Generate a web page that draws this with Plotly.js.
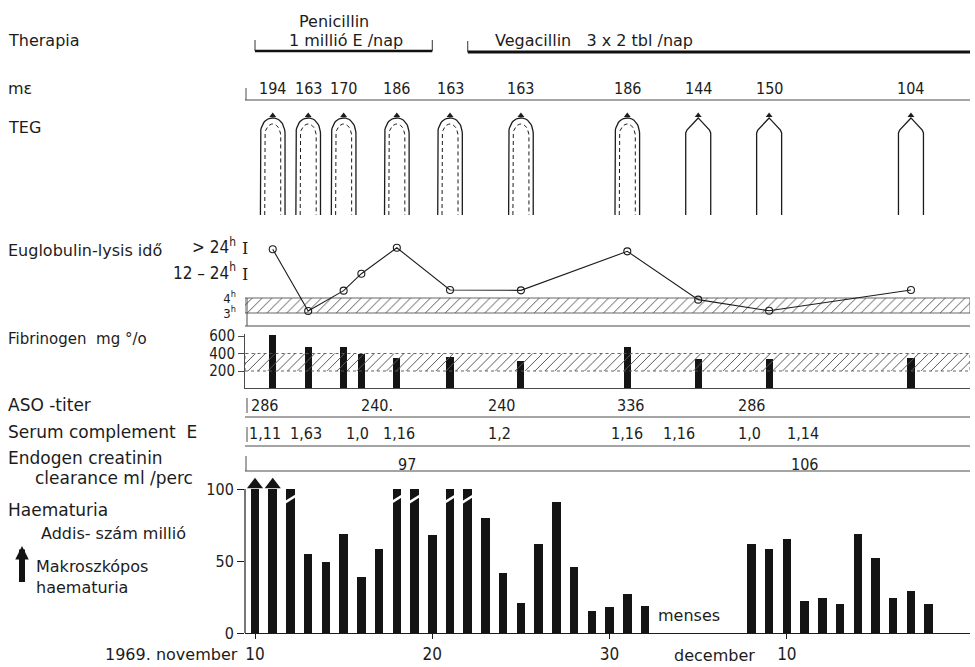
<!DOCTYPE html>
<html><head><meta charset="utf-8">
<script src="https://cdn.plot.ly/plotly-3.0.1.min.js"></script>
<style>html,body{margin:0;padding:0;background:#fff}#chart{width:975px;height:667px}</style>
</head><body><div id="chart"></div>
<script>
// ---------------- data (x = days after 1969 november 10) ----------------
const dayTickVals = [0, 10, 20, 30];
const dayTickText = ['10', '20', '30', '10'];

const penicillinDays = [0, 10];
const vegacillinStart = 12;

const tegDays = [1, 3, 5, 8, 11, 15, 21, 25, 29, 37];
const tegDashed = [true, true, true, true, true, true, true, false, false, false];
const meValues = ['194', '163', '170', '186', '163', '163', '186', '144', '150', '104'];

const labDays = [1, 3, 5, 6, 8, 11, 15, 21, 25, 29, 37];
const euglobulinLevel = [7.25, 3.13, 4.49, 5.62, 7.35, 4.53, 4.51, 7.11, 3.89, 3.15, 4.53];
const euglobulinTickVals = [3, 4, 5.6, 7.3];
const euglobulinTickText = ['3<sup>h</sup>', '4<sup>h</sup>',
  '<span style="font-size:17px">12 – 24<sup>h</sup></span>', '<span style="font-size:17px">&gt; 24<sup>h</sup></span>'];
const euglobulinBracketVals = [5.6, 7.3];
const euglobulinNormal = [3, 4];

const fibrinogen = [610, 470, 470, 400, 345, 365, 320, 480, 335, 335, 345];
const fibrinogenNormal = [200, 400];
const fibrinogenTicks = [200, 400, 600];

const asoDays = [0.55, 6.9, 13.9, 21.2, 28];
const asoValues = ['286', '240.', '240', '336', '286'];

const complementDays = [0.55, 2.9, 5.8, 8.1, 13.8, 21, 23.9, 27.9, 30.9];
const complementValues = ['1,11', '1,63', '1,0', '1,16', '1,2', '1,16', '1,16', '1,0', '1,14'];

const clearanceDays = [8.6, 31];
const clearanceValues = ['97', '106'];

const haemDays = [0, 1, 2, 3, 4, 5, 6, 7, 8, 9, 10, 11, 12, 13, 14, 15, 16, 17, 18, 19, 20, 21, 22,
                  28, 29, 30, 31, 32, 33, 34, 35, 36, 37, 38];
const haemValues = [100, 100, 100, 55, 49, 69, 39, 58, 100, 100, 68, 100, 100, 80, 42, 21, 62, 91, 46, 15, 18, 27, 19,
                    62, 58, 65, 22, 24, 20, 69, 52, 24, 29, 20];
const macroDays = [0, 1];
const brokenDays = [2, 8, 9, 11, 12];
const haemTicks = [0, 50, 100];
const mensesDay = 22.6;

// ---------------- geometry helpers ----------------
const W = 975, H = 667, ML = 245, MR = 5, MT = 0, MB = 34;
const PW = W - ML - MR, PH = H - MT - MB;
const xRange = [-0.564, 40.33];
const pxPerDay = PW / (xRange[1] - xRange[0]);
const fy = py => (PH - (py - MT)) / PH;          // page px (y) -> paper fraction
const fx = px => (px - ML) / PW;                  // page px (x) -> paper fraction

const ink = '#1c1c1c';
const rule = '#4a4a4a';
const labelFont = 'DejaVu Sans, sans-serif';
const numFont = 'Liberation Sans Narrow, DejaVu Sans Condensed, sans-serif';

// TEG axis: v = (220 - px)/110
const tv = px => (220 - px) / 110;
const dd = px => px / pxPerDay;

function tegOuter(c, pointed) {
  const xs = [], ys = [];
  const w = pointed ? 12.5 : 12.3;
  const bottom = 215, apex = 118;
  if (pointed) {
    const prof = [[w, 215], [w, 133], [w - 1.2, 130], [w * 0.5, 124.5], [1.6, 119.6], [0, apex]];
    prof.forEach(p => { xs.push(c - dd(p[0])); ys.push(tv(p[1])); });
    prof.slice(0, -1).reverse().forEach(p => { xs.push(c + dd(p[0])); ys.push(tv(p[1])); });
  } else {
    const shoulder = 134;
    xs.push(c - dd(w)); ys.push(tv(bottom));
    for (let i = 0; i <= 12; i++) {
      const t = i / 12 * Math.PI / 2;
      xs.push(c - dd(w * Math.pow(Math.cos(t), 0.9))); ys.push(tv(apex + (shoulder - apex) * (1 - Math.sin(t))));
    }
    for (let i = 11; i >= 0; i--) {
      const t = i / 12 * Math.PI / 2;
      xs.push(c + dd(w * Math.pow(Math.cos(t), 0.9))); ys.push(tv(apex + (shoulder - apex) * (1 - Math.sin(t))));
    }
    xs.push(c + dd(w)); ys.push(tv(bottom));
  }
  return [xs, ys];
}
function tegInner(c) {
  const xs = [], ys = [];
  const w = 8, apex = 124, shoulder = 136;
  xs.push(c - dd(w)); ys.push(tv(215));
  for (let i = 0; i <= 10; i++) {
    const t = i / 10 * Math.PI / 2;
    xs.push(c - dd(w * Math.cos(t))); ys.push(tv(apex + (shoulder - apex) * (1 - Math.sin(t))));
  }
  for (let i = 9; i >= 0; i--) {
    const t = i / 10 * Math.PI / 2;
    xs.push(c + dd(w * Math.cos(t))); ys.push(tv(apex + (shoulder - apex) * (1 - Math.sin(t))));
  }
  xs.push(c + dd(w)); ys.push(tv(215));
  return [xs, ys];
}

const outerX = [], outerY = [], innerX = [], innerY = [];
tegDays.forEach((d, i) => {
  const o = tegOuter(d, !tegDashed[i]);
  outerX.push(...o[0], null); outerY.push(...o[1], null);
  if (tegDashed[i]) {
    const n = tegInner(d);
    innerX.push(...n[0], null); innerY.push(...n[1], null);
  }
});

const hatch = {shape: '/', size: 7, solidity: 0.14, fgcolor: '#555', bgcolor: 'rgba(255,255,255,0)'};

const traces = [];
// TEG
traces.push({type: 'scatter', mode: 'lines', x: outerX, y: outerY, xaxis: 'x', yaxis: 'y2',
  line: {color: ink, width: 1.3}, hoverinfo: 'skip', showlegend: false});
traces.push({type: 'scatter', mode: 'lines', x: innerX, y: innerY, xaxis: 'x', yaxis: 'y2',
  line: {color: ink, width: 1, dash: '4px,3px'}, hoverinfo: 'skip', showlegend: false});
traces.push({type: 'scatter', mode: 'markers', x: tegDays, y: tegDays.map(() => tv(115.5)), xaxis: 'x', yaxis: 'y2',
  marker: {symbol: 'triangle-up', size: 6, color: ink}, hoverinfo: 'skip', showlegend: false});

// Euglobulin normal band + line
traces.push({type: 'scatter', mode: 'lines', xaxis: 'x', yaxis: 'y3',
  x: [xRange[0], xRange[1], xRange[1], xRange[0], xRange[0]],
  y: [euglobulinNormal[0], euglobulinNormal[0], euglobulinNormal[1], euglobulinNormal[1], euglobulinNormal[0]],
  fill: 'toself', fillcolor: 'rgba(0,0,0,0)', fillpattern: hatch, line: {color: '#555', width: 0.9},
  hoverinfo: 'skip', showlegend: false});
traces.push({type: 'scatter', mode: 'lines+markers', x: labDays, y: euglobulinLevel, xaxis: 'x', yaxis: 'y3',
  line: {color: ink, width: 1.1}, marker: {symbol: 'circle-open', size: 7, color: ink, line: {width: 1.1, color: ink}},
  showlegend: false});

// Fibrinogen normal band + bars
traces.push({type: 'scatter', mode: 'lines', xaxis: 'x', yaxis: 'y4',
  x: [xRange[0], xRange[1], xRange[1], xRange[0], xRange[0]],
  y: [fibrinogenNormal[0], fibrinogenNormal[0], fibrinogenNormal[1], fibrinogenNormal[1], fibrinogenNormal[0]],
  fill: 'toself', fillcolor: 'rgba(0,0,0,0)', fillpattern: hatch, line: {color: '#555', width: 0.9, dash: 'dot'},
  hoverinfo: 'skip', showlegend: false});
traces.push({type: 'bar', x: labDays, y: fibrinogen, xaxis: 'x', yaxis: 'y4', width: 0.4,
  marker: {color: '#141414'}, showlegend: false});

// Haematuria
traces.push({type: 'bar', x: haemDays, y: haemValues, xaxis: 'x', yaxis: 'y', width: 0.48,
  marker: {color: '#141414'}, showlegend: false});
const brX = [], brY = [];
brokenDays.forEach(d => { brX.push(d - 0.32, d + 0.32, null); brY.push(90.5, 95.5, null); });
traces.push({type: 'scatter', mode: 'lines', x: brX, y: brY, xaxis: 'x', yaxis: 'y',
  line: {color: '#ffffff', width: 2.6}, hoverinfo: 'skip', showlegend: false});
traces.push({type: 'scatter', mode: 'markers', x: macroDays, y: macroDays.map(() => 103), xaxis: 'x', yaxis: 'y',
  marker: {symbol: 'triangle-up', size: 14, color: '#141414'}, hoverinfo: 'skip', showlegend: false});

// ---------------- annotations ----------------
const ann = [];
function lab(text, px, py, size, opts) {
  ann.push(Object.assign({xref: 'paper', yref: 'paper', x: fx(px), y: fy(py), text: text, showarrow: false,
    xanchor: 'left', yanchor: 'middle', font: {family: labelFont, size: size, color: ink}}, opts || {}));
}
lab('Therapia', 6, 40, 16);
lab('mε', 6, 88, 16);
lab('TEG', 6, 127, 16);
lab('Euglobulin-lysis idő', 6, 251, 16);
lab('Fibrinogen  mg °/o', 6, 339, 15);
lab('ASO -titer', 6, 405, 17);
lab('Serum complement  E', 6, 432, 17);
lab('Endogen creatinin', 6, 458, 17);
lab('clearance ml /perc', 33, 478, 17);
lab('Haematuria', 6, 510, 17);
lab('Addis- szám millió', 39, 533, 16);
lab('Makroszkópos', 34, 566, 16);
lab('haematuria', 34, 587, 16);
lab('1969. november', 240, 654, 16, {xanchor: 'right'});
lab('december', 757, 656, 16, {xanchor: 'right'});
lab('Penicillin', 334, 21, 16, {xanchor: 'center'});
lab('1 millió E /nap', 346, 40, 16, {xanchor: 'center'});
lab('Vegacillin   3 x 2 tbl /nap', 493, 40, 16);
// macroscopic arrow legend
ann.push({xref: 'paper', yref: 'paper', x: fx(22), y: fy(546), ax: 0, ay: 46, axref: 'pixel', ayref: 'pixel',
  text: ' ', showarrow: true, arrowhead: 2, arrowsize: 0.45, arrowwidth: 6, arrowcolor: '#141414'});
// menses
ann.push({xref: 'x', yref: 'y', x: mensesDay, y: 12, text: 'menses', showarrow: false, xanchor: 'left', yanchor: 'middle',
  font: {family: labelFont, size: 16, color: ink}});

function rowText(days, vals, py, size) {
  days.forEach((d, i) => ann.push({xref: 'x', yref: 'paper', x: d, y: fy(py), text: vals[i], showarrow: false,
    xanchor: 'center', yanchor: 'middle', font: {family: numFont, size: size, color: ink}}));
}
rowText(tegDays, meValues, 88, 16);
rowText(asoDays, asoValues, 405, 16);
rowText(complementDays, complementValues, 433, 16);
rowText(clearanceDays, clearanceValues, 464, 16);

// euglobulin I-beam brackets
euglobulinBracketVals.forEach(v => ann.push({xref: 'paper', yref: 'y3', x: fx(245), y: v, text: 'I', showarrow: false,
  xanchor: 'center', yanchor: 'middle', font: {family: 'DejaVu Serif, serif', size: 16, color: ink}}));

// ---------------- shapes (rules) ----------------
const shapes = [];
function hrule(py, w) {
  shapes.push({type: 'line', xref: 'paper', yref: 'paper', x0: 0, x1: 1, y0: fy(py), y1: fy(py),
    line: {color: rule, width: w || 1}});
}
function vtick(px, py0, py1) {
  shapes.push({type: 'line', xref: 'paper', yref: 'paper', x0: fx(px), x1: fx(px), y0: fy(py0), y1: fy(py1),
    line: {color: rule, width: 1}});
}
hrule(100); vtick(246, 88, 100);
hrule(326);
hrule(388.5);
hrule(417); vtick(247, 398, 413);
hrule(446); vtick(247, 427, 442);
hrule(471); vtick(246, 456, 471);
// euglobulin axis stub
shapes.push({type: 'line', xref: 'paper', yref: 'y3', x0: fx(247), x1: fx(247), y0: 2.14, y1: euglobulinNormal[1],
  line: {color: rule, width: 1}});
// haematuria axis line 0..100
shapes.push({type: 'line', xref: 'paper', yref: 'y', x0: 0, x1: 0, y0: 0, y1: 100, line: {color: ink, width: 1.2}});
// therapy brackets
shapes.push({type: 'line', xref: 'x', yref: 'paper', x0: penicillinDays[0], x1: penicillinDays[1], y0: fy(51), y1: fy(51),
  line: {color: '#111', width: 2.4}});
penicillinDays.forEach(d => shapes.push({type: 'line', xref: 'x', yref: 'paper', x0: d, x1: d, y0: fy(40), y1: fy(51),
  line: {color: '#333', width: 1}}));
shapes.push({type: 'line', xref: 'x', yref: 'paper', x0: vegacillinStart, x1: xRange[1], y0: fy(52), y1: fy(52),
  line: {color: '#111', width: 2.8}});
shapes.push({type: 'line', xref: 'x', yref: 'paper', x0: vegacillinStart, x1: vegacillinStart, y0: fy(41), y1: fy(52),
  line: {color: '#333', width: 1}});

const layout = {
  width: W, height: H, margin: {l: ML, r: MR, t: MT, b: MB}, paper_bgcolor: '#fff', plot_bgcolor: 'rgba(0,0,0,0)',
  showlegend: false, bargap: 0,
  xaxis: {range: xRange, anchor: 'y', showgrid: false, zeroline: false, showline: true, linecolor: ink, linewidth: 1.2,
    tickvals: dayTickVals, ticktext: dayTickText, ticks: 'outside', ticklen: 5, tickcolor: ink,
    tickfont: {family: numFont, size: 17, color: ink}},
  yaxis: {domain: [0, fy(472)], range: [0, (633 - 472) / 1.44], showgrid: false, zeroline: false, showline: false,
    tickvals: haemTicks, ticks: 'outside', ticklen: 7, tickcolor: ink, tickfont: {family: numFont, size: 16, color: ink}},
  yaxis2: {domain: [fy(220), fy(110)], range: [0, 1], visible: false, anchor: 'x'},
  yaxis3: {domain: [fy(326), fy(236)], range: [3 - 13 / 15, 3 + 77 / 15], anchor: 'x', showgrid: false, zeroline: false,
    showline: false, tickvals: euglobulinTickVals, ticktext: euglobulinTickText, ticks: '', ticklabelstandoff: 8,
    tickfont: {family: numFont, size: 13, color: ink}},
  yaxis4: {domain: [fy(388.5), fy(388.5 - 620 * 0.0875)], range: [0, 620], anchor: 'x', showgrid: false, zeroline: false,
    showline: true, linecolor: rule, linewidth: 1, tickvals: fibrinogenTicks, ticks: 'outside', ticklen: 6, tickcolor: rule,
    tickfont: {family: numFont, size: 15, color: ink}},
  annotations: ann, shapes: shapes
};

Plotly.newPlot('chart', traces, layout, {staticPlot: true, displayModeBar: false});
</script>
</body></html>
